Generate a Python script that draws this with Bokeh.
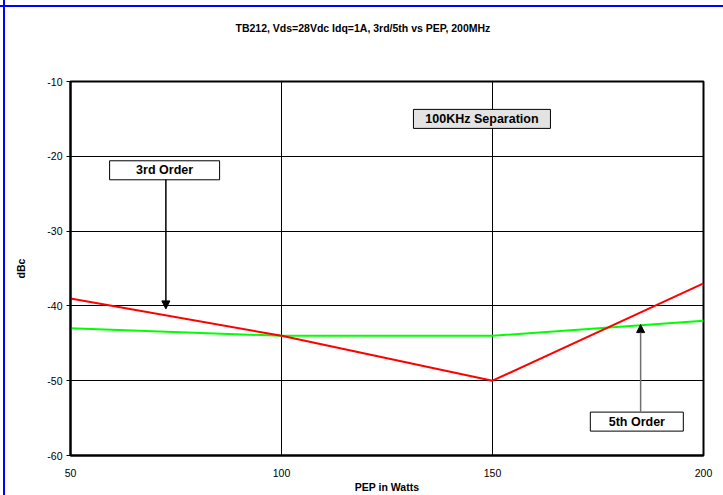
from bokeh.plotting import figure
from bokeh.models import Range1d, Arrow, NormalHead, FixedTicker, PrintfTickFormatter, Title
from bokeh.core.properties import value
from bokeh.embed import file_html
from bokeh.resources import INLINE

# ---- data ----
pep = [50, 100, 150, 200]
third_order = [-39, -44, -50, -37]
fifth_order = [-43, -44, -44, -42]
x_ticks = [50, 100, 150, 200]
y_ticks = [-60, -50, -40, -30, -20, -10]
title_text = "TB212, Vds=28Vdc Idq=1A, 3rd/5th vs PEP, 200MHz"

# annotation boxes: text, centre x, centre y, box width px, fill
box_text = ["100KHz Separation", "3rd Order", "5th Order"]
box_x = [147.5, 72.3, 184.2]
box_y = [-15.0, -21.87, -55.47]
box_w = [137, 110, 93]
box_fill = ["#e3e3e3", "white", "white"]
# arrows: start (box edge) -> end (tip)
arr_x = [72.6, 185.1]
arr_y0 = [-23.1, -54.3]
arr_y1 = [-40.4, -42.5]
arr_color = ["black", "#707070"]

FONT = "Liberation Sans"

p = figure(width=723, height=495, output_backend="svg", toolbar_location=None,
           x_range=Range1d(50, 200), y_range=Range1d(-60, -10),
           min_border_left=70, min_border_right=20, min_border_top=81, min_border_bottom=39)

p.background_fill_color = "white"
p.border_fill_color = None
p.outline_line_color = "black"
p.outline_line_width = 2
# outer blue chart-area frame (top and left edges)
p.styles = {"background-color": "white",
            "background-image": ("linear-gradient(to bottom, transparent 5px, #0000ff 5px, #0000ff 7px, transparent 7px), "
                                 "linear-gradient(to right, transparent 3px, #0000ff 3px, #0000ff 5px, transparent 5px)"),
            "background-repeat": "no-repeat"}

# title: a blank spacer panel next to the frame, then the title above it
p.add_layout(Title(text=" ", text_font=FONT, text_font_size="10.5px", standoff=34), "above")
p.add_layout(Title(text=title_text, text_font=FONT, text_font_size="10.5px", text_font_style="bold",
                   text_color="black", align="left", offset=165, standoff=0), "above")

# axes
p.xaxis.ticker = FixedTicker(ticks=x_ticks)
p.yaxis.ticker = FixedTicker(ticks=y_ticks)
p.yaxis.formatter = PrintfTickFormatter(format="%d")
p.xaxis.axis_label = "PEP in Watts"
p.yaxis.axis_label = "dBc"
for ax in (p.xaxis[0], p.yaxis[0]):
    ax.axis_line_color = "black"
    ax.axis_line_width = 2
    ax.major_label_text_font = FONT
    ax.major_label_text_font_size = "10.5px"
    ax.major_label_text_color = "black"
    ax.axis_label_text_font = FONT
    ax.axis_label_text_font_size = "10.5px"
    ax.axis_label_text_font_style = "bold"
    ax.axis_label_text_color = "black"
    ax.minor_tick_line_color = None
    ax.major_tick_in = 0
p.xaxis.major_tick_out = 0
p.xaxis.major_label_standoff = 13
p.xaxis.axis_label_standoff = 1
p.yaxis.major_tick_out = 4
p.yaxis.major_tick_line_color = "black"
p.yaxis.major_label_standoff = 4
p.yaxis.axis_label_standoff = 17

p.xgrid.ticker = FixedTicker(ticks=x_ticks)
p.ygrid.ticker = FixedTicker(ticks=y_ticks)
p.grid.grid_line_color = "black"
p.grid.grid_line_width = 1
p.grid.grid_line_alpha = 1

# series
p.line(pep, fifth_order, line_color="#00ff00", line_width=2)
p.line(pep, third_order, line_color="#ff0000", line_width=2)

# arrows
for i in range(len(arr_x)):
    p.add_layout(Arrow(end=NormalHead(size=8, fill_color="black", line_color="black"),
                       x_start=arr_x[i], y_start=arr_y0[i], x_end=arr_x[i], y_end=arr_y1[i],
                       line_color=arr_color[i], line_width=1.5))

# boxes
p.rect(box_x, box_y, width=box_w, height=[19] * 3, width_units="screen", height_units="screen",
       fill_color=box_fill, line_color="black", line_width=1)
p.text(box_x, box_y, text=box_text, text_align="center", text_baseline="middle",
       text_font=value(FONT), text_font_size="12.5px", text_font_style="bold", text_color="black")

open("out.html", "w").write(file_html(p, INLINE))
